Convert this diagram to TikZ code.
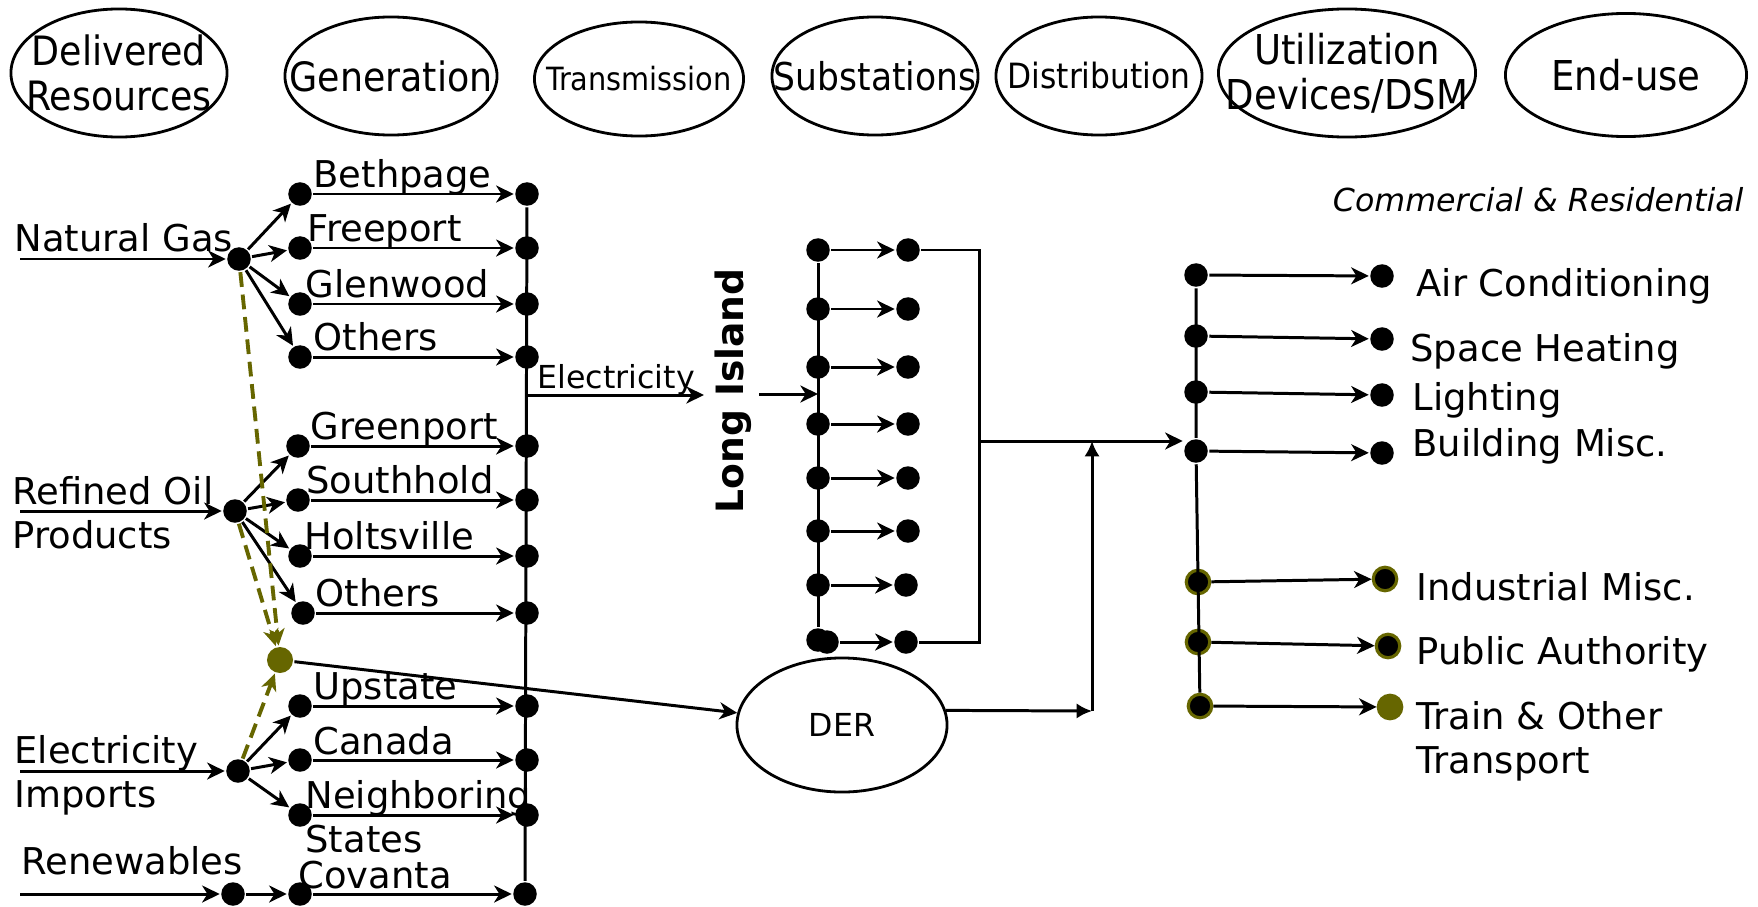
\documentclass[tikz,border=0pt]{standalone}
\usepackage{fontspec}
\setmainfont{DejaVu Sans}
\newfontfamily\condfont{DejaVu Sans Condensed}
\usetikzlibrary{shapes.geometric, arrows.meta}
\definecolor{olivedot}{RGB}{102, 102, 0}
\tikzstyle{arrow} = [line width=0.85pt,-{Stealth[length=5pt,width=4.8pt,inset=1.5pt]}]
\tikzstyle{solidarrow} = [line width=0.85pt,-{Latex[length=4.4pt,width=4.4pt]}]
\tikzstyle{oilarrow} = [draw=olivedot, line width=1.1pt, dash pattern=on 4.2pt off 2.2pt,-{Stealth[length=4.8pt,width=4.4pt,inset=1.4pt]}]
\tikzstyle{dot} = [circle, fill=black, minimum size=0.235cm, inner sep=0pt]
\tikzstyle{odot} = [dot, draw=olivedot, line width=0.9pt]
\tikzstyle{stage} = [ellipse, draw=black, line width=0.8pt, inner sep=0pt]
\tikzstyle{lbl} = [inner sep=0pt, font=\fontsize{10.5}{12.6}\selectfont]
\tikzstyle{small} = [inner sep=0pt, font=\fontsize{9}{11}\selectfont]

\begin{document}
\begin{tikzpicture}[x=0.01cm, y=-0.01cm, line width=0.85pt]
        \useasboundingbox (0,0) rectangle (1758,906);

        % Stages on top
        \node[stage, minimum width=2.16cm, minimum height=1.28cm,
        label={[font=\condfont\fontsize{11.5}{12.8}\selectfont, align=center]center:Delivered\\Resources}] (delivered) at (119,73) {};
        \node[stage, minimum width=2.12cm, minimum height=1.18cm,
        label={[font=\condfont\fontsize{11.5}{13}\selectfont]center:Generation}] (generation) at (391,76) {};
        \node[stage, minimum width=2.09cm, minimum height=1.14cm,
        label={[font=\condfont\fontsize{9.1}{11}\selectfont]center:Transmission}] (transmission) at (639,79) {};
        \node[stage, minimum width=2.06cm, minimum height=1.18cm,
        label={[font=\condfont\fontsize{10.9}{13}\selectfont]center:Substations}] (substations) at (875,76) {};
        \node[stage, minimum width=2.06cm, minimum height=1.18cm,
        label={[font=\condfont\fontsize{9.9}{12}\selectfont]center:Distribution}] (distribution) at (1099,76) {};
        \node[stage, minimum width=2.57cm, minimum height=1.28cm,
        label={[font=\condfont\fontsize{11.7}{12.8}\selectfont, align=center]center:Utilization\\Devices/DSM}] (utilization) at (1347,73) {};
        \node[stage, minimum width=2.41cm, minimum height=1.23cm,
        label={[font=\condfont\fontsize{11.7}{13}\selectfont]center:End-use}] (enduse) at (1626,75) {};

        % Delivered resources
        \coordinate (ngin) at (20,259);
        \node[dot] (nghub) at (239,259) {};
        \node[lbl, anchor=base west] (ngtxt) at (13,251) {Natural Gas};
        \coordinate (roin) at (20,511);
        \node[dot] (rohub) at (235,511) {};
        \node[lbl, anchor=north west, align=left] (rotxt) at (11,475) {Refined Oil\\Products};
        \coordinate (eiin) at (20,771);
        \node[dot] (eihub) at (238,771) {};
        \node[lbl, anchor=north west, align=left] (eitxt) at (13,734) {Electricity\\Imports};
        \coordinate (rnin) at (20,894);
        \node[dot] (rnhub) at (233,894) {};
        \node[lbl, anchor=base west] (rntxt) at (20,874) {Renewables};

        \draw[arrow] (ngin) -- (nghub);
        \draw[arrow] (roin) -- (rohub);
        \draw[arrow] (eiin) -- (eihub);
        \draw[arrow] (rnin) -- (rnhub);

        % Generation plants
        \node[dot] (bethL) at (300,194) {};
        \node[dot] (freeL) at (300,248) {};
        \node[dot] (glenL) at (300,304) {};
        \node[dot] (ngothL) at (300,357) {};
        \node[dot] (greenL) at (298,446) {};
        \node[dot] (southL) at (298,500) {};
        \node[dot] (holtL) at (300,556) {};
        \node[dot] (roothL) at (303,613) {};
        \node[dot] (upL) at (300,706) {};
        \node[dot] (canL) at (300,760) {};
        \node[dot] (neighL) at (300,815) {};
        \node[dot] (covL) at (300,894) {};

        \node[lbl, anchor=base west] (bethtxt) at (312,187) {Bethpage};
        \node[lbl, anchor=base west] (freetxt) at (306,241) {Freeport};
        \node[lbl, anchor=base west] (glentxt) at (304,297) {Glenwood};
        \node[lbl, anchor=base west] (ngothtxt) at (312,350) {Others};
        \node[lbl, anchor=base west] (greentxt) at (309,439) {Greenport};
        \node[lbl, anchor=base west] (southtxt) at (305,493) {Southhold};
        \node[lbl, anchor=base west] (holttxt) at (303,549) {Holtsville};
        \node[lbl, anchor=base west] (roothtxt) at (314,606) {Others};
        \node[lbl, anchor=base west] (uptxt) at (312,699) {Upstate};
        \node[lbl, anchor=base west] (cantxt) at (312,754) {Canada};
        \node[lbl, anchor=north west, align=left] (neightxt) at (304,779) {Neighboring\\States};
        \node[lbl, anchor=base west] (covtxt) at (297,888) {Covanta};

        \draw[arrow] (nghub) -- (bethL);
        \draw[arrow] (nghub) -- (freeL);
        \draw[arrow] (nghub) -- (glenL);
        \draw[arrow] (nghub) -- (ngothL);
        \draw[arrow] (rohub) -- (greenL);
        \draw[arrow] (rohub) -- (southL);
        \draw[arrow] (rohub) -- (holtL);
        \draw[arrow] (rohub) -- (roothL);
        \draw[arrow] (eihub) -- (upL);
        \draw[arrow] (eihub) -- (canL);
        \draw[arrow] (eihub) -- (neighL);
        \draw[arrow] (rnhub) -- (covL);

        % Transmission bus
        \node[dot] (bethR) at (527,194) {};
        \node[dot] (freeR) at (527,248) {};
        \node[dot] (glenR) at (527,304) {};
        \node[dot] (ngothR) at (527,357) {};
        \node[dot] (greenR) at (527,446) {};
        \node[dot] (southR) at (527,500) {};
        \node[dot] (holtR) at (527,556) {};
        \node[dot] (roothR) at (527,613) {};
        \node[dot] (upR) at (527,706) {};
        \node[dot] (canR) at (527,760) {};
        \node[dot] (neighR) at (527,815) {};
        \node[dot] (covR) at (525,894) {};
        \draw (bethR) -- (covR);

        \draw[arrow] (bethL) -- (bethR);
        \draw[arrow] (freeL) -- (freeR);
        \draw[arrow] (glenL) -- (glenR);
        \draw[arrow] (ngothL) -- (ngothR);
        \draw[arrow] (greenL) -- (greenR);
        \draw[arrow] (southL) -- (southR);
        \draw[arrow] (holtL) -- (holtR);
        \draw[arrow] (roothL) -- (roothR);
        \draw[arrow] (upL) -- (upR);
        \draw[arrow] (canL) -- (canR);
        \draw[arrow] (neighL) -- (neighR);
        \draw[arrow] (covL) -- (covR);

        % Electricity to Long Island
        \coordinate (elecout) at (527,395);
        \coordinate (elecin) at (704,395);
        \draw[arrow] (elecout) -- (elecin);
        \node[small, anchor=base west] (electxt) at (536,388) {Electricity};
        \node[rotate=90, inner sep=0pt, font=\bfseries\fontsize{10.7}{12}\selectfont] (longisland) at (733,391) {Long Island};
        \coordinate (lifrom) at (759,394);
        \coordinate (lito) at (818,394);
        \draw[arrow] (lifrom) -- (lito);

        % Substations
        \node[dot] (s1L) at (818,250) {};
        \node[dot] (s2L) at (818,309) {};
        \node[dot] (s3L) at (818,367) {};
        \node[dot] (s4L) at (818,424) {};
        \node[dot] (s5L) at (818,478) {};
        \node[dot] (s6L) at (818,531) {};
        \node[dot] (s7L) at (818,585) {};
        \node[dot] (s8L) at (818,640) {};
        \node[dot] (s8Lb) at (827,642) {};
        \node[dot] (s1R) at (908,250) {};
        \node[dot] (s2R) at (908,309) {};
        \node[dot] (s3R) at (908,367) {};
        \node[dot] (s4R) at (908,424) {};
        \node[dot] (s5R) at (908,478) {};
        \node[dot] (s6R) at (908,531) {};
        \node[dot] (s7R) at (906,585) {};
        \node[dot] (s8R) at (906,642) {};
        \draw (s1L) -- (s8L);

        \draw[arrow] (s1L) -- (s1R);
        \draw[arrow] (s2L) -- (s2R);
        \draw[arrow] (s3L) -- (s3R);
        \draw[arrow] (s4L) -- (s4R);
        \draw[arrow] (s5L) -- (s5R);
        \draw[arrow] (s6L) -- (s6R);
        \draw[arrow] (s7L) -- (s7R);
        \draw[arrow] (s8Lb) -- (s8R);

        \coordinate (subout) at (979,441);
        \draw (s1R) -| (subout) |- (s8R);

        % DER
        \node[dot, fill=olivedot, minimum size=0.26cm] (oil) at (280,660) {};
        \draw[oilarrow] (nghub) -- (oil);
        \draw[oilarrow] (rohub) -- (oil);
        \draw[oilarrow] (eihub) -- (oil);
        \node[stage, minimum width=2.10cm, minimum height=1.34cm,
        label={[small]center:DER}] (der) at (842,725) {};
        \draw[arrow] (oil) -- (der);
        \coordinate (derup) at (1092,711);
        \draw[solidarrow] (der.8) -- (derup);
        \draw[solidarrow] (derup) -- (subout -| derup);

        % End-use
        \node[dot] (e1) at (1196,275) {};
        \node[dot] (e2) at (1196,336) {};
        \node[dot] (e3) at (1196,392) {};
        \node[dot] (e4) at (1196,451) {};
        \node[odot] (e5) at (1198,582) {};
        \node[odot] (e6) at (1198,642) {};
        \node[odot] (e7) at (1200,706) {};
        \node[dot] (u1) at (1382,276) {};
        \node[dot] (u2) at (1382,339) {};
        \node[dot] (u3) at (1382,395) {};
        \node[dot] (u4) at (1382,453) {};
        \node[odot] (u5) at (1385,579) {};
        \node[odot] (u6) at (1388,646) {};
        \node[odot, fill=olivedot] (u7) at (1390,707) {};
        \draw (e1) -- (e4) -- (e7);

        \draw[arrow] (subout) -- (subout -| e4.west);
        \draw[arrow] (e1) -- (u1);
        \draw[arrow] (e2) -- (u2);
        \draw[arrow] (e3) -- (u3);
        \draw[arrow] (e4) -- (u4);
        \draw[arrow] (e5) -- (u5);
        \draw[arrow] (e6) -- (u6);
        \draw[arrow] (e7) -- (u7);

        \node[small, anchor=base east, font=\itshape\fontsize{9}{11}\selectfont] (comres) at (1745,211) {Commercial \& Residential};
        \node[lbl, anchor=base west] (actxt) at (1415,296) {Air Conditioning};
        \node[lbl, anchor=base west] (shtxt) at (1409,361) {Space Heating};
        \node[lbl, anchor=base west] (lighttxt) at (1411,410) {Lighting};
        \node[lbl, anchor=base west] (bmtxt) at (1411,456) {Building Misc.};
        \node[lbl, anchor=base west] (imtxt) at (1415,600) {Industrial Misc.};
        \node[lbl, anchor=base west] (patxt) at (1415,664) {Public Authority};
        \node[lbl, anchor=north west, align=left] (traintxt) at (1415,700) {Train \& Other\\Transport};
\end{tikzpicture}
\end{document}
